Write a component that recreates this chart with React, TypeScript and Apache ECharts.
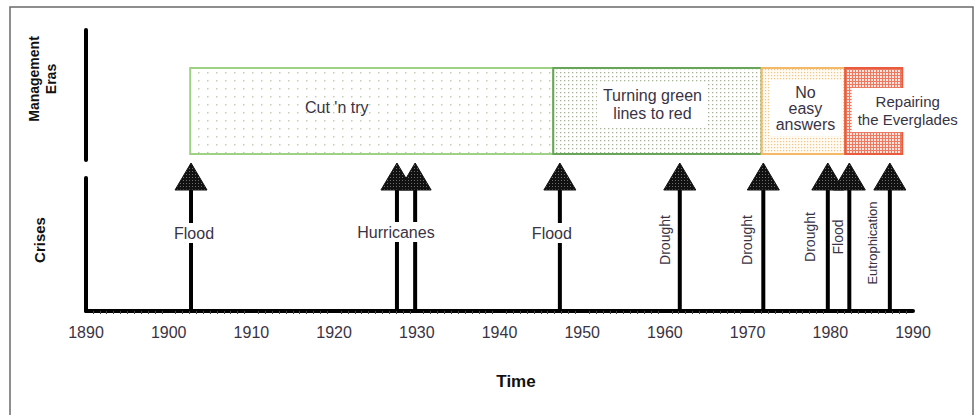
import React, { useEffect, useRef } from "react";
import * as echarts from "echarts";

// ---------- data ----------
const xMin = 1890;
const xMax = 1990;
const xTickStep = 10;
const xTickYears = [1890, 1900, 1910, 1920, 1930, 1940, 1950, 1960, 1970, 1980, 1990];

const eraNames = [
  "Cut 'n try",
  "Turning green\nlines to red",
  "No\neasy\nanswers",
  "Repairing\nthe Everglades",
];
const eraStart = [1902.6, 1946.5, 1971.7, 1981.8];
const eraEnd = [1946.5, 1971.7, 1981.8, 1988.7];

const crisisYears = [1902.7, 1927.6, 1929.8, 1947.3, 1961.8, 1971.9, 1979.7, 1982.3, 1987.2];
const crisisLabels = [
  "Flood",
  "Hurricanes",
  "",
  "Flood",
  "Drought",
  "Drought",
  "Drought",
  "Flood",
  "Eutrophication",
];

// ---------- styles ----------
const FONT = "'Liberation Sans', Arial, Helvetica, sans-serif";
const TEXT_COLOR = "#3a3344";

// per-crisis label styling: [offsetX, offsetY (from lower grid top), vertical, fontSize]
const crisisLabelStyle: [number, number, boolean, number][] = [
  [3, 55, false, 16],
  [-1, 54, false, 16],
  [0, 0, false, 16],
  [-8, 55, false, 16],
  [-15, 62, true, 14],
  [-16, 62, true, 14],
  [-18, 59, true, 14],
  [-11, 59, true, 14],
  [-17, 65, true, 13],
];

// per-era styling
const eraBorder = ["#9fd184", "#67a658", "#f4b867", "#ea5a3c"];
const eraLabelStyle: [number, number, boolean, number][] = [
  [-35, -4, false, 16],
  [-5, -7, true, 16],
  [2, -3, true, 16],
  [34, -1, true, 15],
];

function makeDotPattern(bg: string, dot: string, w: number, h: number, ds: number) {
  const c = document.createElement("canvas");
  c.width = w;
  c.height = h;
  const ctx = c.getContext("2d")!;
  ctx.fillStyle = bg;
  ctx.fillRect(0, 0, w, h);
  ctx.fillStyle = dot;
  ctx.fillRect(0, 0, ds, ds);
  return { image: c, repeat: "repeat", imageWidth: w, imageHeight: h } as any;
}

function makeGridPattern(bg: string, line: string, step: number) {
  const c = document.createElement("canvas");
  c.width = step;
  c.height = step;
  const ctx = c.getContext("2d")!;
  ctx.fillStyle = bg;
  ctx.fillRect(0, 0, step, step);
  ctx.fillStyle = line;
  ctx.fillRect(0, 0, step, 1);
  ctx.fillRect(0, 0, 1, step);
  return { image: c, repeat: "repeat", imageWidth: step, imageHeight: step } as any;
}

export default function App() {
  const ref = useRef<HTMLDivElement>(null);

  useEffect(() => {
    document.body.style.margin = "0";
    if (!ref.current) return;
    const chart = echarts.init(ref.current, undefined, { renderer: "svg" });

    const eraPatterns = [
      makeDotPattern("#ffffff", "#c3cfb2", 9, 8, 1.5),
      makeDotPattern("#ffffff", "#a3b596", 4, 4, 1.3),
      makeDotPattern("#fffaf2", "#f0c58c", 3, 3, 1.2),
      makeGridPattern("#fbe3dc", "#ec7a62", 3),
    ];
    const headPattern = makeDotPattern("#111111", "#6e6e6e", 3, 3, 1);

    const eraData = eraStart.map((s, i) => [s, eraEnd[i], i]);
    const crisisData = crisisYears.map((y, i) => [y, i]);

    const option: any = {
      animation: false,
      backgroundColor: "#ffffff",
      textStyle: { fontFamily: FONT },
      grid: [
        { left: 86, right: 63, top: 30, height: 130 },
        { left: 86, right: 63, top: 178, height: 133 },
      ],
      xAxis: [
        { gridIndex: 0, type: "value", min: xMin, max: xMax, interval: xTickStep, show: false },
        {
          gridIndex: 1,
          type: "value",
          min: xMin,
          max: xMax,
          interval: xTickStep,
          splitLine: { show: false },
          axisLine: { show: true, lineStyle: { color: "#000", width: 4 } },
          axisTick: { show: false },
          minorTick: { show: true, splitNumber: 12, length: 3, lineStyle: { color: "#444", width: 1 } },
          axisLabel: {
            show: true,
            margin: 13,
            color: TEXT_COLOR,
            fontSize: 16,
            fontFamily: FONT,
            formatter: (v: number) => (xTickYears.includes(v) ? String(v) : ""),
          },
        },
      ],
      yAxis: [
        {
          gridIndex: 0,
          type: "value",
          min: 0,
          max: 100,
          axisLine: { show: true, lineStyle: { color: "#000", width: 4 } },
          axisTick: { show: false },
          axisLabel: { show: false },
          splitLine: { show: false },
        },
        {
          gridIndex: 1,
          type: "value",
          min: 0,
          max: 100,
          axisLine: { show: true, lineStyle: { color: "#000", width: 4 } },
          axisTick: { show: false },
          axisLabel: { show: false },
          splitLine: { show: false },
        },
      ],
      graphic: [
        {
          type: "rect",
          shape: { x: 10, y: 7, width: 963, height: 420 },
          style: { fill: "none", stroke: "#6a6a6a", lineWidth: 1.5 },
          silent: true,
        },
        {
          type: "text",
          x: 42,
          y: 79,
          rotation: Math.PI / 2,
          style: {
            text: "Management\nEras",
            font: `bold 14px ${FONT}`,
            fill: "#111",
            align: "center",
            verticalAlign: "middle",
            lineHeight: 17,
          },
        },
        {
          type: "text",
          x: 39,
          y: 240,
          rotation: Math.PI / 2,
          style: {
            text: "Crises",
            font: `bold 15px ${FONT}`,
            fill: "#111",
            align: "center",
            verticalAlign: "middle",
          },
        },
        {
          type: "text",
          x: 516,
          y: 381,
          style: {
            text: "Time",
            font: `bold 17px ${FONT}`,
            fill: "#111",
            align: "center",
            verticalAlign: "middle",
          },
        },
      ],
      series: [
        {
          type: "custom",
          xAxisIndex: 0,
          yAxisIndex: 0,
          clip: false,
          data: eraData,
          renderItem: (params: any, api: any) => {
            const i = api.value(2);
            const s = api.coord([api.value(0), 0]);
            const e = api.coord([api.value(1), 0]);
            const cs = params.coordSys;
            const top = cs.y + 38;
            const h = 86;
            const [ox, oy, bg, fs] = eraLabelStyle[i];
            return {
              type: "group",
              children: [
                {
                  type: "rect",
                  shape: { x: s[0], y: top, width: e[0] - s[0], height: h },
                  style: { fill: eraPatterns[i], stroke: eraBorder[i], lineWidth: 2 },
                  z2: i,
                },
                {
                  type: "text",
                  z2: 20,
                  x: (s[0] + e[0]) / 2 + ox,
                  y: top + h / 2 + oy,
                  style: {
                    text: eraNames[i],
                    font: `${fs}px ${FONT}`,
                    fill: TEXT_COLOR,
                    align: "center",
                    verticalAlign: "middle",
                    lineHeight: i === 2 ? 16 : 18,
                    backgroundColor: bg ? "#ffffff" : undefined,
                    padding: bg ? [4, 6] : 0,
                  },
                },
              ],
            };
          },
        },
        {
          type: "custom",
          xAxisIndex: 1,
          yAxisIndex: 1,
          clip: false,
          data: crisisData,
          renderItem: (params: any, api: any) => {
            const i = api.value(1);
            const base = api.coord([api.value(0), 0]);
            const cs = params.coordSys;
            const apexY = cs.y - 15;
            const headH = 27;
            const headW = 32;
            const stemTop = apexY + headH;
            const [ox, oy, vertical, fs] = crisisLabelStyle[i];
            const children: any[] = [
              {
                type: "line",
                shape: { x1: base[0], y1: base[1], x2: base[0], y2: stemTop },
                style: { stroke: "#000", lineWidth: 4 },
                z2: 1,
              },
              {
                type: "polygon",
                shape: {
                  points: [
                    [base[0], apexY],
                    [base[0] - headW / 2, stemTop],
                    [base[0] + headW / 2, stemTop],
                  ],
                },
                style: { fill: headPattern, stroke: "#111", lineWidth: 1 },
                z2: 2,
              },
            ];
            if (crisisLabels[i]) {
              children.push({
                type: "text",
                z2: 30,
                x: base[0] + ox,
                y: cs.y + oy,
                rotation: vertical ? Math.PI / 2 : 0,
                style: {
                  text: crisisLabels[i],
                  font: `${fs}px ${FONT}`,
                  fill: TEXT_COLOR,
                  align: "center",
                  verticalAlign: "middle",
                  backgroundColor: vertical ? undefined : "#ffffff",
                  padding: vertical ? 0 : [2, 1],
                },
              });
            }
            return { type: "group", children };
          },
        },
      ],
    };

    chart.setOption(option);
    return () => chart.dispose();
  }, []);

  return <div ref={ref} style={{ width: 976, height: 415 }} />;
}
